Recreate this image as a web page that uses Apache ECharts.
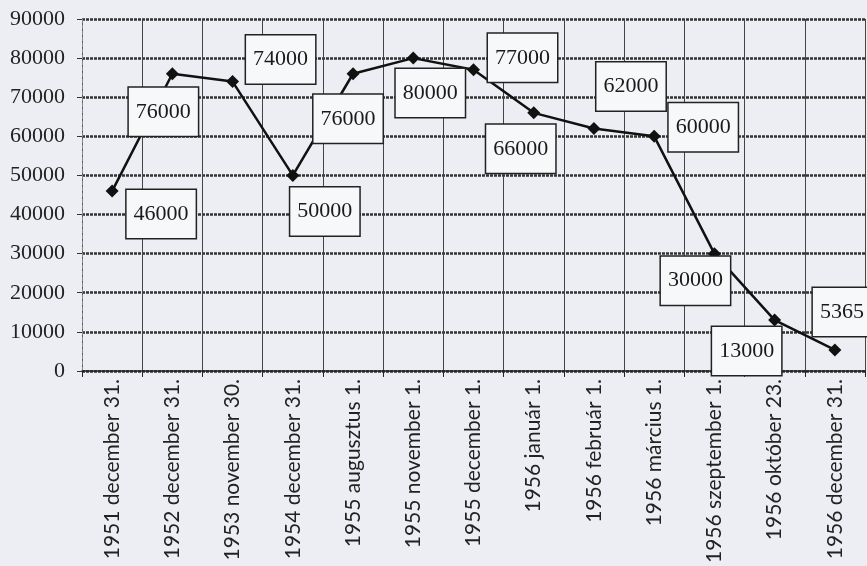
<!DOCTYPE html>
<html>
<head>
<meta charset="utf-8">
<script src="https://cdn.jsdelivr.net/npm/echarts@6/dist/echarts.min.js"></script>
<style>
html,body{margin:0;padding:0;background:#eceef3;}
#c{width:867px;height:566px;}
</style>
</head>
<body>
<div id="c"></div>
<script>
var categories = [
  "1951 december 31.",
  "1952 december 31.",
  "1953 november 30.",
  "1954 december 31.",
  "1955 augusztus 1.",
  "1955 november 1.",
  "1955 december 1.",
  "1956 január 1.",
  "1956 február 1.",
  "1956 március 1.",
  "1956 szeptember 1.",
  "1956 október 23.",
  "1956 december 31."
];
var values = [46000, 76000, 74000, 50000, 76000, 80000, 77000, 66000, 62000, 60000, 30000, 13000, 5365];
var yTicks = {min: 0, max: 90000, interval: 10000};

// label box placement relative to each point (px)
var labelOffsets = [
  [49, 23], [-9, 38], [48, -22], [32, 36], [-5, 45], [17, 35], [49, -12],
  [-13, 36], [37, -42], [49, -9], [-19, 27], [-28, 31], [7, -38]
];

var chart = echarts.init(document.getElementById('c'), null, {renderer: 'canvas'});
var data = values.map(function (v, i) {
  return {
    value: v,
    label: {offset: labelOffsets[i]}
  };
});
chart.setOption({
  backgroundColor: '#eceef3',
  animation: false,
  grid: {left: 82, right: 2, top: 19, bottom: 194, containLabel: false},
  xAxis: {
    type: 'category',
    data: categories,
    boundaryGap: true,
    axisLine: {show: true, lineStyle: {color: '#222', width: 1.5}},
    axisTick: {show: true, length: 6, lineStyle: {color: '#222', width: 1}},
    axisLabel: {
      rotate: 90,
      margin: 8,
      interval: 0,
      fontFamily: 'Lato',
      fontSize: 21,
      color: '#222'
    },
    splitLine: {show: true, interval: 0, lineStyle: {color: '#444', width: 1, type: 'solid'}}
  },
  yAxis: {
    type: 'value',
    min: yTicks.min,
    max: yTicks.max,
    interval: yTicks.interval,
    axisLine: {show: true, lineStyle: {color: '#888', width: 1, type: 'dashed'}},
    axisTick: {show: true, length: 5, lineStyle: {color: '#333'}},
    axisLabel: {
      margin: 17,
      fontFamily: 'Liberation Serif',
      fontSize: 22,
      color: '#222',
      formatter: function (v) { return String(v); }
    },
    splitLine: {show: true, lineStyle: {color: '#333', width: 2.5, type: [3, 1]}}
  },
  series: [{
    type: 'line',
    data: data,
    symbol: 'diamond',
    symbolSize: 13,
    itemStyle: {color: '#111'},
    lineStyle: {color: '#111', width: 2.5},
    label: {
      show: true,
      position: 'inside',
      fontFamily: 'Liberation Serif',
      fontSize: 22,
      lineHeight: 22,
      color: '#1a1a1a',
      backgroundColor: '#f7f8fa',
      borderColor: '#222',
      borderWidth: 1.5,
      padding: [13, 7]
    },
    z: 3
  }]
});
</script>
</body>
</html>
